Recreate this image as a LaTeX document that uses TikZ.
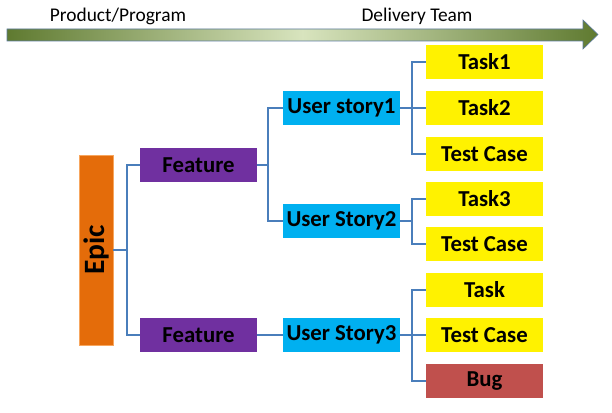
\documentclass[tikz,border=0pt]{standalone}
\usepackage{fontspec}
\setmainfont{Carlito}
\definecolor{arrD}{HTML}{5F7A30}
\definecolor{arrL}{HTML}{D8E4BE}
\definecolor{arrB}{HTML}{5B7A9E}
\definecolor{connC}{HTML}{4A7EBB}
\definecolor{usC}{HTML}{00B0F0}
\definecolor{featC}{HTML}{7030A0}
\definecolor{epicC}{HTML}{E46C0A}
\definecolor{epicB}{HTML}{F7A65E}
\definecolor{bugC}{HTML}{C0504D}
\begin{document}
\begin{tikzpicture}[x=1pt,y=-1pt,
  box/.style={rectangle, minimum width=117pt, minimum height=34pt, inner sep=0pt,
    font=\fontsize{22.8}{22.8}\selectfont\bfseries, text=black},
  taskbox/.style={box, fill=yellow},
  usbox/.style={box, fill=usC},
  featbox/.style={box, fill=featC},
  bugbox/.style={box, fill=bugC},
  conn/.style={draw=connC, line width=1.6pt},
  toplabel/.style={font=\fontsize{19.4}{19.4}\selectfont, text=black, inner sep=0pt}]
\useasboundingbox (0,0) rectangle (612,412);

% top arrow
\shadedraw[left color=arrD, right color=arrD, middle color=arrL, draw=arrB, line width=0.6pt]
  (7,29) -- (583,29) -- (583,20) -- (598,34.5) -- (583,49) -- (583,41) -- (7,41) -- cycle;
\node[toplabel] (pp) at (118,16) {Product/Program};
\node[toplabel] (dt) at (417,16) {Delivery Team};

% epic
\node[rectangle, minimum width=34pt, minimum height=190pt, inner sep=0pt, fill=epicC, draw=epicB, line width=0.6pt,
  font=\fontsize{29.5}{29.5}\selectfont\bfseries] (epic) at (96,250) {\rotatebox{90}{Epic}};

% features
\node[featbox] (f1) at (198.5,165) {Feature};
\node[featbox] (f2) at (198.5,335) {Feature};

% user stories
\node[usbox] (us1) at (341.5,108) {User story1};
\node[usbox] (us2) at (341.5,221) {User Story2};
\node[usbox] (us3) at (341.5,335) {User Story3};

% tasks
\node[taskbox] (t1) at (484.5,62) {Task1};
\node[taskbox] (t2) at (484.5,108) {Task2};
\node[taskbox] (tc1) at (484.5,154) {Test Case};
\node[taskbox] (t3) at (484.5,199) {Task3};
\node[taskbox] (tc2) at (484.5,244) {Test Case};
\node[taskbox] (t4) at (484.5,290) {Task};
\node[taskbox] (tc3) at (484.5,335) {Test Case};
\node[bugbox] (bug) at (484.5,381) {Bug};

% connectors
\draw[conn] (epic.east) -- ++(14,0);
\draw[conn] (f1.west) -- ++(-13,0) |- (f2.west);
\draw[conn] (f1.east) -- ++(11,0);
\draw[conn] (us1.west) -- ++(-15,0) |- (us2.west);
\draw[conn] (f2.east) -- (us3.west);
\draw[conn] (us1.east) -- ++(12,0);
\draw[conn] (t1.west) -- ++(-14,0) |- (tc1.west);
\draw[conn] (t2.west) -- ++(-14,0);
\draw[conn] (us2.east) -- ++(12,0);
\draw[conn] (t3.west) -- ++(-14,0) |- (tc2.west);
\draw[conn] (us3.east) -- ++(12,0);
\draw[conn] (t4.west) -- ++(-14,0) |- (bug.west);
\draw[conn] (tc3.west) -- ++(-14,0);
\end{tikzpicture}
\end{document}
